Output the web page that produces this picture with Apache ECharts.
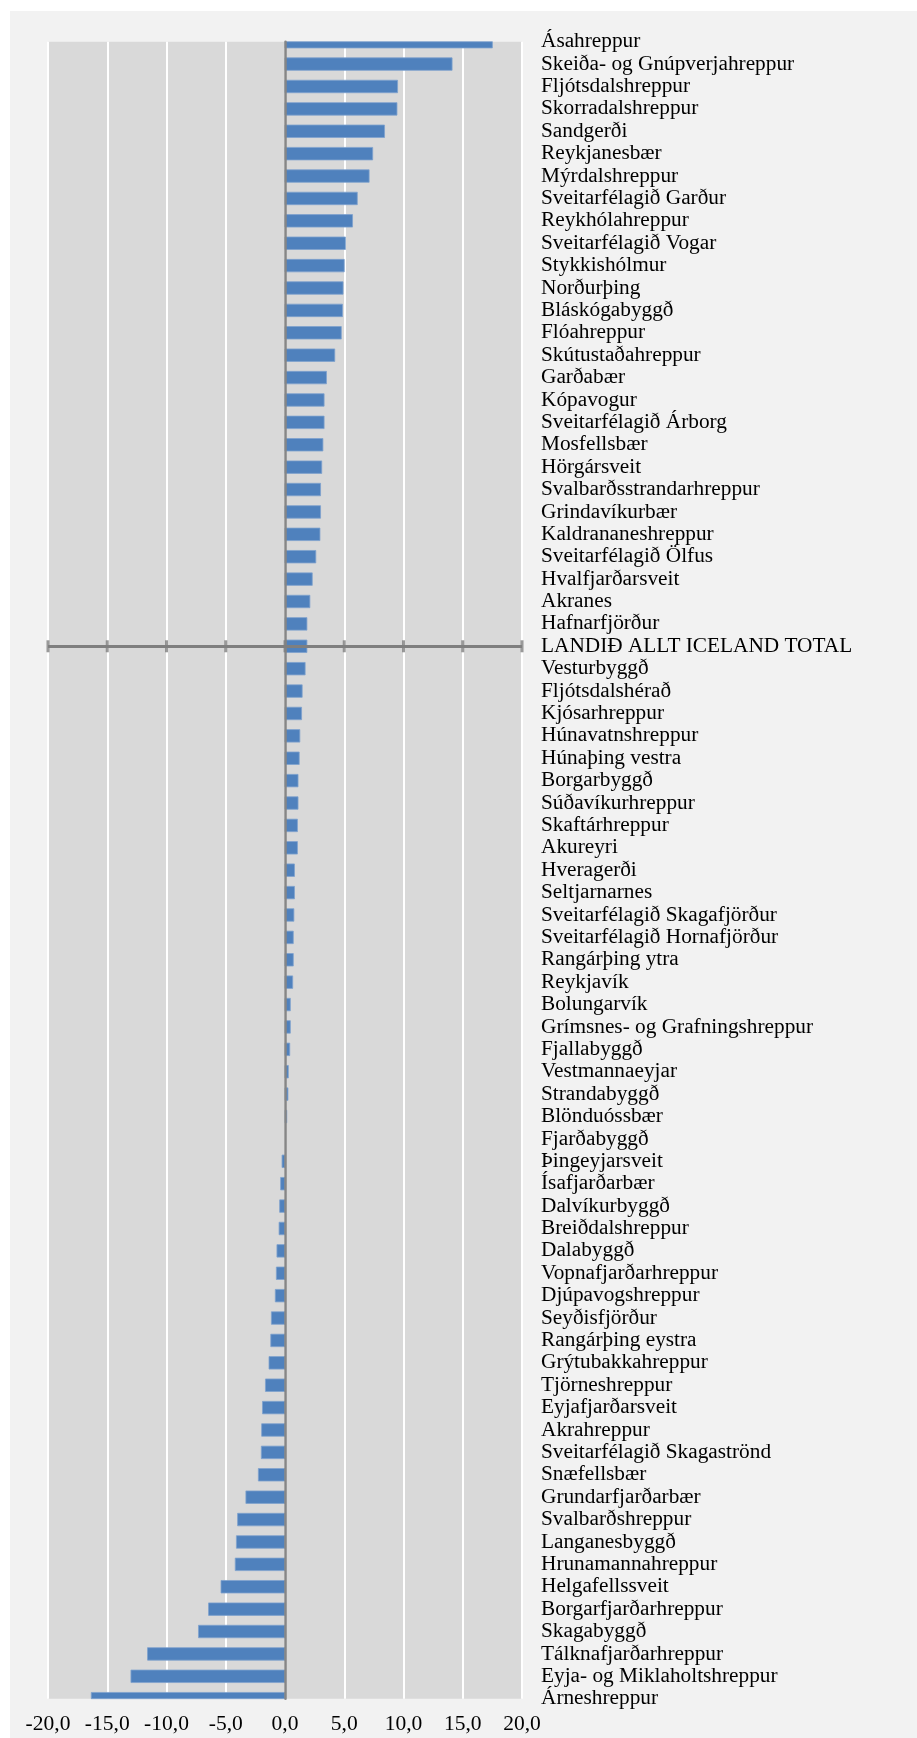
<!DOCTYPE html>
<html>
<head>
<meta charset="utf-8">
<script src="https://cdn.jsdelivr.net/npm/echarts@6/dist/echarts.min.js"></script>
<style>
  html, body { margin: 0; padding: 0; background: #ffffff; }
  #chart {
    position: absolute;
    left: 10px;
    top: 11px;
    width: 907px;
    height: 1727px;
    background: #F2F2F2;
  }
</style>
</head>
<body>
<div id="chart"></div>
<script>
var categories = [
  'Ásahreppur', 'Skeiða- og Gnúpverjahreppur', 'Fljótsdalshreppur', 'Skorradalshreppur',
  'Sandgerði', 'Reykjanesbær', 'Mýrdalshreppur', 'Sveitarfélagið Garður', 'Reykhólahreppur',
  'Sveitarfélagið Vogar', 'Stykkishólmur', 'Norðurþing', 'Bláskógabyggð', 'Flóahreppur',
  'Skútustaðahreppur', 'Garðabær', 'Kópavogur', 'Sveitarfélagið Árborg', 'Mosfellsbær',
  'Hörgársveit', 'Svalbarðsstrandarhreppur', 'Grindavíkurbær', 'Kaldrananeshreppur',
  'Sveitarfélagið Ölfus', 'Hvalfjarðarsveit', 'Akranes', 'Hafnarfjörður',
  'LANDIÐ ALLT ICELAND TOTAL', 'Vesturbyggð', 'Fljótsdalshérað', 'Kjósarhreppur',
  'Húnavatnshreppur', 'Húnaþing vestra', 'Borgarbyggð', 'Súðavíkurhreppur', 'Skaftárhreppur',
  'Akureyri', 'Hveragerði', 'Seltjarnarnes', 'Sveitarfélagið Skagafjörður',
  'Sveitarfélagið Hornafjörður', 'Rangárþing ytra', 'Reykjavík', 'Bolungarvík',
  'Grímsnes- og Grafningshreppur', 'Fjallabyggð', 'Vestmannaeyjar', 'Strandabyggð',
  'Blönduóssbær', 'Fjarðabyggð', 'Þingeyjarsveit', 'Ísafjarðarbær', 'Dalvíkurbyggð',
  'Breiðdalshreppur', 'Dalabyggð', 'Vopnafjarðarhreppur', 'Djúpavogshreppur', 'Seyðisfjörður',
  'Rangárþing eystra', 'Grýtubakkahreppur', 'Tjörneshreppur', 'Eyjafjarðarsveit', 'Akrahreppur',
  'Sveitarfélagið Skagaströnd', 'Snæfellsbær', 'Grundarfjarðarbær', 'Svalbarðshreppur',
  'Langanesbyggð', 'Hrunamannahreppur', 'Helgafellssveit', 'Borgarfjarðarhreppur',
  'Skagabyggð', 'Tálknafjarðarhreppur', 'Eyja- og Miklaholtshreppur', 'Árneshreppur'
];

var values = [
  17.5, 14.1, 9.5, 9.45,
  8.4, 7.4, 7.1, 6.1, 5.7,
  5.1, 5.0, 4.9, 4.85, 4.75,
  4.2, 3.5, 3.3, 3.3, 3.2,
  3.1, 3.0, 3.0, 2.95,
  2.6, 2.3, 2.1, 1.85,
  1.85, 1.7, 1.45, 1.4,
  1.25, 1.2, 1.1, 1.1, 1.05,
  1.05, 0.8, 0.8, 0.75,
  0.7, 0.7, 0.65, 0.45,
  0.45, 0.4, 0.28, 0.25,
  0.15, 0.0, -0.25, -0.37, -0.45,
  -0.5, -0.68, -0.73, -0.82, -1.15,
  -1.2, -1.35, -1.65, -1.9, -1.97,
  -2.0, -2.25, -3.3, -4.0,
  -4.1, -4.2, -5.4, -6.45,
  -7.3, -11.6, -13.0, -16.35
];

// value axis ticks (also where the cross-ticks on the total row sit)
var xTicks = [-20, -15, -10, -5, 0, 5, 10, 15, 20];
var totalName = 'LANDIÐ ALLT ICELAND TOTAL';

var font = 'Liberation Serif, Times New Roman, serif';
var barH = 12.5;
var chart = echarts.init(document.getElementById('chart'));

var barData = values.map(function (v, i) { return [v, i]; });
var tickData = xTicks.map(function (t) { return [t, totalName]; });

// bars drawn as a custom series so the first / last half-bars get clipped to the plot
function renderBar(params, api) {
  var cat = api.value(1);
  var p0 = api.coord([0, cat]);
  var p1 = api.coord([api.value(0), cat]);
  var cs = params.coordSys;
  var rect = echarts.graphic.clipRectByRect({
    x: Math.min(p0[0], p1[0]),
    y: p0[1] - barH / 2,
    width: Math.abs(p1[0] - p0[0]),
    height: barH
  }, { x: cs.x, y: cs.y, width: cs.width, height: cs.height });
  if (!rect || rect.width <= 0) return null;
  return {
    type: 'rect',
    shape: rect,
    style: { fill: '#4F81BD', stroke: '#7FA2CE', lineWidth: 0.8 }
  };
}

chart.setOption({
  animation: false,
  backgroundColor: 'transparent',
  grid: {
    left: 38,
    top: 30.7,
    width: 474,
    height: 1657,
    show: true,
    backgroundColor: '#D9D9D9',
    borderWidth: 0,
    containLabel: false
  },
  xAxis: {
    type: 'value',
    min: -20,
    max: 20,
    interval: 5,
    position: 'bottom',
    axisLine: { show: false },
    axisTick: { show: false },
    splitLine: { show: true, lineStyle: { color: '#ffffff', width: 2 } },
    axisLabel: {
      margin: 15,
      fontFamily: font,
      fontSize: 21.5,
      color: '#000',
      formatter: function (v) { return v.toFixed(1).replace('.', ','); }
    }
  },
  yAxis: [{
    type: 'category',
    data: categories,
    inverse: true,
    boundaryGap: false,
    z: 4,
    axisLine: { show: true, onZero: true, lineStyle: { color: '#868686', width: 2.5 } },
    axisTick: { show: false },
    axisLabel: { show: false },
    splitLine: { show: false }
  }, {
    type: 'category',
    data: categories,
    inverse: true,
    boundaryGap: false,
    position: 'right',
    axisLine: { show: false },
    axisTick: { show: false },
    splitLine: { show: false },
    axisLabel: {
      interval: 0,
      margin: 19,
      fontFamily: font,
      fontSize: 21.3,
      color: '#000'
    }
  }],
  series: [{
    type: 'custom',
    yAxisIndex: 0,
    renderItem: renderBar,
    encode: { x: 0, y: 1 },
    data: barData
  }, {
    type: 'scatter',
    yAxisIndex: 0,
    z: 5,
    silent: true,
    symbol: 'rect',
    symbolSize: [3, 12],
    itemStyle: { color: '#7F7F7F' },
    data: tickData,
    markLine: {
      silent: true,
      symbol: 'none',
      label: { show: false },
      lineStyle: { color: '#7F7F7F', width: 3, type: 'solid' },
      data: [{ yAxis: totalName }]
    }
  }]
});
</script>
</body>
</html>
